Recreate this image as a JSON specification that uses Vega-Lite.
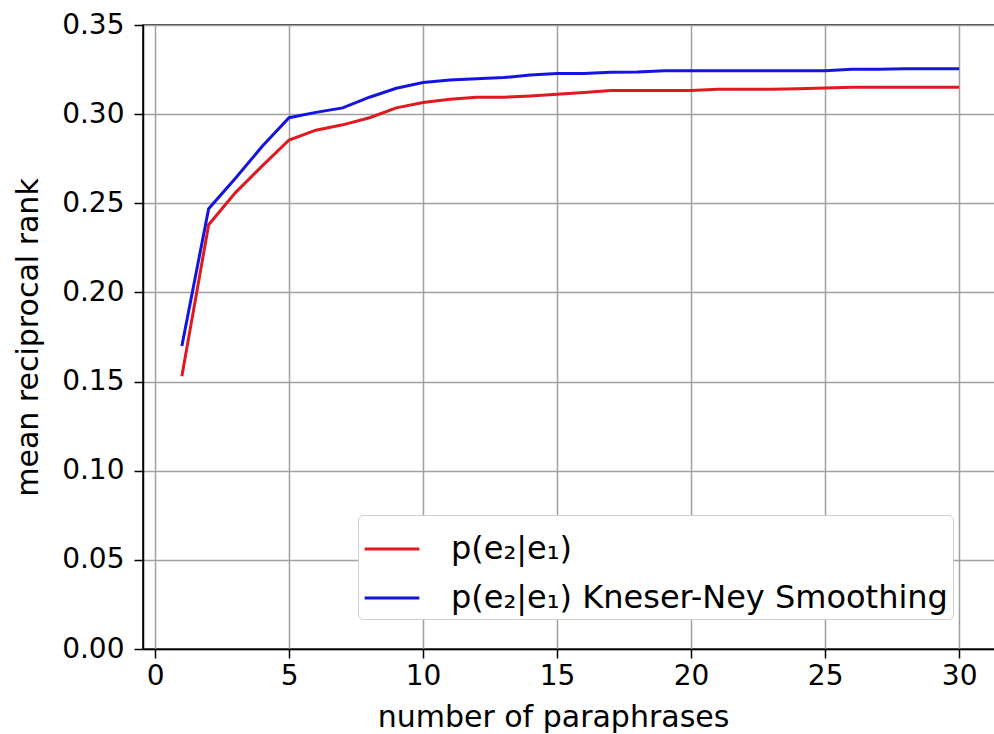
{
  "$schema": "https://vega.github.io/schema/vega-lite/v6.json",
  "width": 855,
  "height": 624,
  "autosize": "none",
  "padding": {"left": 143, "top": 25, "right": 0, "bottom": 85},
  "background": "white",
  "config": {
    "font": "DejaVu Sans",
    "view": {"stroke": "black", "strokeWidth": 1.5},
    "axis": {
      "labelFont": "DejaVu Sans",
      "titleFont": "DejaVu Sans",
      "labelFontSize": 28,
      "titleFontSize": 30,
      "labelColor": "black",
      "titleColor": "black",
      "titleFontWeight": "normal",
      "domainColor": "black",
      "domainWidth": 1.5,
      "tickColor": "black",
      "tickWidth": 1.5,
      "tickSize": 9,
      "gridColor": "#a0a0a0",
      "gridWidth": 1.5,
      "gridOpacity": 1
    }
  },
  "data": {
    "values": [
      {"n": 1, "series": "p(e₂|e₁)", "mrr": 0.153},
      {"n": 2, "series": "p(e₂|e₁)", "mrr": 0.238},
      {"n": 3, "series": "p(e₂|e₁)", "mrr": 0.256},
      {"n": 4, "series": "p(e₂|e₁)", "mrr": 0.271},
      {"n": 5, "series": "p(e₂|e₁)", "mrr": 0.2855},
      {"n": 6, "series": "p(e₂|e₁)", "mrr": 0.291},
      {"n": 7, "series": "p(e₂|e₁)", "mrr": 0.294},
      {"n": 8, "series": "p(e₂|e₁)", "mrr": 0.298},
      {"n": 9, "series": "p(e₂|e₁)", "mrr": 0.3035},
      {"n": 10, "series": "p(e₂|e₁)", "mrr": 0.3065},
      {"n": 11, "series": "p(e₂|e₁)", "mrr": 0.3084},
      {"n": 12, "series": "p(e₂|e₁)", "mrr": 0.3095},
      {"n": 13, "series": "p(e₂|e₁)", "mrr": 0.3095},
      {"n": 14, "series": "p(e₂|e₁)", "mrr": 0.3102},
      {"n": 15, "series": "p(e₂|e₁)", "mrr": 0.3112},
      {"n": 16, "series": "p(e₂|e₁)", "mrr": 0.3121},
      {"n": 17, "series": "p(e₂|e₁)", "mrr": 0.3132},
      {"n": 18, "series": "p(e₂|e₁)", "mrr": 0.3132},
      {"n": 19, "series": "p(e₂|e₁)", "mrr": 0.3132},
      {"n": 20, "series": "p(e₂|e₁)", "mrr": 0.3132},
      {"n": 21, "series": "p(e₂|e₁)", "mrr": 0.314},
      {"n": 22, "series": "p(e₂|e₁)", "mrr": 0.314},
      {"n": 23, "series": "p(e₂|e₁)", "mrr": 0.314},
      {"n": 24, "series": "p(e₂|e₁)", "mrr": 0.3143},
      {"n": 25, "series": "p(e₂|e₁)", "mrr": 0.3146},
      {"n": 26, "series": "p(e₂|e₁)", "mrr": 0.3151},
      {"n": 27, "series": "p(e₂|e₁)", "mrr": 0.3151},
      {"n": 28, "series": "p(e₂|e₁)", "mrr": 0.3151},
      {"n": 29, "series": "p(e₂|e₁)", "mrr": 0.3151},
      {"n": 30, "series": "p(e₂|e₁)", "mrr": 0.3151},
      {"n": 1, "series": "p(e₂|e₁) Kneser-Ney Smoothing", "mrr": 0.17},
      {"n": 2, "series": "p(e₂|e₁) Kneser-Ney Smoothing", "mrr": 0.247},
      {"n": 3, "series": "p(e₂|e₁) Kneser-Ney Smoothing", "mrr": 0.264},
      {"n": 4, "series": "p(e₂|e₁) Kneser-Ney Smoothing", "mrr": 0.282},
      {"n": 5, "series": "p(e₂|e₁) Kneser-Ney Smoothing", "mrr": 0.298},
      {"n": 6, "series": "p(e₂|e₁) Kneser-Ney Smoothing", "mrr": 0.301},
      {"n": 7, "series": "p(e₂|e₁) Kneser-Ney Smoothing", "mrr": 0.3035},
      {"n": 8, "series": "p(e₂|e₁) Kneser-Ney Smoothing", "mrr": 0.3095},
      {"n": 9, "series": "p(e₂|e₁) Kneser-Ney Smoothing", "mrr": 0.3145},
      {"n": 10, "series": "p(e₂|e₁) Kneser-Ney Smoothing", "mrr": 0.3177},
      {"n": 11, "series": "p(e₂|e₁) Kneser-Ney Smoothing", "mrr": 0.3192},
      {"n": 12, "series": "p(e₂|e₁) Kneser-Ney Smoothing", "mrr": 0.3198},
      {"n": 13, "series": "p(e₂|e₁) Kneser-Ney Smoothing", "mrr": 0.3205},
      {"n": 14, "series": "p(e₂|e₁) Kneser-Ney Smoothing", "mrr": 0.3219},
      {"n": 15, "series": "p(e₂|e₁) Kneser-Ney Smoothing", "mrr": 0.3228},
      {"n": 16, "series": "p(e₂|e₁) Kneser-Ney Smoothing", "mrr": 0.3228},
      {"n": 17, "series": "p(e₂|e₁) Kneser-Ney Smoothing", "mrr": 0.3235},
      {"n": 18, "series": "p(e₂|e₁) Kneser-Ney Smoothing", "mrr": 0.3237},
      {"n": 19, "series": "p(e₂|e₁) Kneser-Ney Smoothing", "mrr": 0.3243},
      {"n": 20, "series": "p(e₂|e₁) Kneser-Ney Smoothing", "mrr": 0.3243},
      {"n": 21, "series": "p(e₂|e₁) Kneser-Ney Smoothing", "mrr": 0.3243},
      {"n": 22, "series": "p(e₂|e₁) Kneser-Ney Smoothing", "mrr": 0.3243},
      {"n": 23, "series": "p(e₂|e₁) Kneser-Ney Smoothing", "mrr": 0.3243},
      {"n": 24, "series": "p(e₂|e₁) Kneser-Ney Smoothing", "mrr": 0.3243},
      {"n": 25, "series": "p(e₂|e₁) Kneser-Ney Smoothing", "mrr": 0.3243},
      {"n": 26, "series": "p(e₂|e₁) Kneser-Ney Smoothing", "mrr": 0.3252},
      {"n": 27, "series": "p(e₂|e₁) Kneser-Ney Smoothing", "mrr": 0.3252},
      {"n": 28, "series": "p(e₂|e₁) Kneser-Ney Smoothing", "mrr": 0.3254},
      {"n": 29, "series": "p(e₂|e₁) Kneser-Ney Smoothing", "mrr": 0.3254},
      {"n": 30, "series": "p(e₂|e₁) Kneser-Ney Smoothing", "mrr": 0.3255}
    ]
  },
  "mark": {"type": "line", "strokeWidth": 3, "clip": true},
  "encoding": {
    "x": {
      "field": "n",
      "type": "quantitative",
      "scale": {"domain": [-0.45, 31.45], "nice": false, "zero": false},
      "axis": {"values": [0, 5, 10, 15, 20, 25, 30], "title": "number of paraphrases", "titleX": 410, "titlePadding": 12, "labelPadding": 4}
    },
    "y": {
      "field": "mrr",
      "type": "quantitative",
      "scale": {"domain": [0, 0.35], "nice": false},
      "axis": {"values": [0, 0.05, 0.1, 0.15, 0.2, 0.25, 0.3, 0.35], "format": ".2f", "title": "mean reciprocal rank", "titlePadding": 18, "labelPadding": 10}
    },
    "color": {
      "field": "series",
      "type": "nominal",
      "scale": {"domain": ["p(e₂|e₁)", "p(e₂|e₁) Kneser-Ney Smoothing"], "range": ["#e01820", "#1414e0"]},
      "legend": {
        "title": null,
        "orient": "none",
        "legendX": 215,
        "legendY": 490,
        "symbolType": "stroke",
        "symbolSize": 3000,
        "symbolStrokeWidth": 3,
        "labelFontSize": 32,
        "labelFont": "DejaVu Sans",
        "labelColor": "black",
        "labelOffset": 30,
        "labelLimit": 800,
        "rowPadding": 4,
        "padding": 5,
        "fillColor": "white",
        "strokeColor": "#d0d0d0",
        "cornerRadius": 5
      }
    }
  }
}
